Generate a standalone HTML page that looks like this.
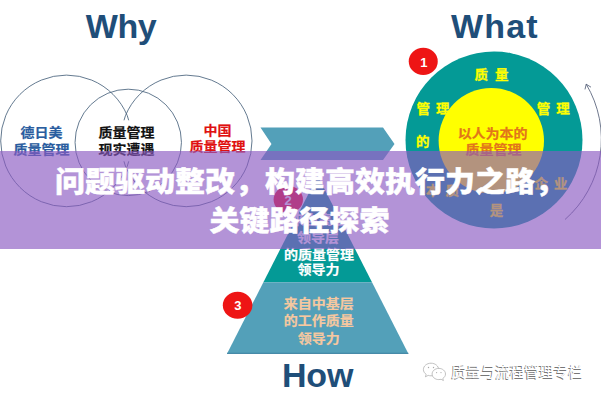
<!DOCTYPE html>
<html lang="zh-CN">
<head>
<meta charset="utf-8">
<title>问题驱动整改，构建高效执行力之路，关键路径探索</title>
<style>
html,body{margin:0;padding:0;background:#fff;}
body{width:601px;height:400px;overflow:hidden;position:relative;font-family:"Liberation Sans","Noto Sans CJK SC",sans-serif;}
svg{position:absolute;left:0;top:0;display:block;}
text{font-family:"Liberation Sans","Noto Sans CJK SC",sans-serif;}
.h{font-size:34px;font-weight:700;fill:#1f4e79;}
.c{font-size:14px;font-weight:700;text-anchor:middle;fill:currentColor;stroke:currentColor;stroke-width:.22px;}
.y{font-size:13.5px;font-weight:700;fill:#ffff00;stroke:#ffff00;stroke-width:.3px;text-anchor:middle;}
.n{font-size:13px;font-weight:700;fill:#fff;text-anchor:middle;}
#banner{position:absolute;left:0;top:150.5px;width:601px;height:98.3px;background:rgba(138,89,193,0.65);}
.t{position:absolute;color:#fff;font-weight:900;font-size:30px;line-height:38px;height:38px;white-space:nowrap;-webkit-text-stroke:0.45px #fff;transform:scaleY(0.94);transform-origin:0 50%;}
#wm{position:absolute;left:451.3px;top:362px;font-size:14.6px;line-height:21px;color:#fff;white-space:nowrap;text-shadow:-0.9px 0.6px 0 #787878;}
#t1{left:55px;top:163.8px;}
#t2{left:209.5px;top:202.8px;}
</style>
</head>
<body>
<svg width="601" height="400" viewBox="0 0 601 400">
  <!-- WHY -->
  <text class="h" x="85.8" y="37.6" letter-spacing="-0.4">Why</text>
  <g fill="none" stroke="#48627c" stroke-width="0.85">
    <circle cx="66.5" cy="140.9" r="65.8"/>
    <circle cx="128.25" cy="142.4" r="53.2"/>
    <circle cx="186.2" cy="140.9" r="65.8"/>
  </g>
  <rect x="98" y="120.3" width="58" height="41" fill="#fff"/>
  <text class="c" style="color:#2a5d9f" transform="translate(41.5,137.0) scale(1,0.92)">德日美</text>
  <text class="c" style="color:#2a5d9f" transform="translate(41.5,154.0) scale(1,0.92)">质量管理</text>
  <text class="c" style="color:#111" transform="translate(126.5,137.0) scale(1,0.92)">质量管理</text>
  <text class="c" style="color:#111" transform="translate(126.5,154.0) scale(1,0.92)">现实遭遇</text>
  <text class="c" style="color:#e01010" transform="translate(217.5,135.0) scale(1,0.92)">中国</text>
  <text class="c" style="color:#e01010" transform="translate(217.5,151.0) scale(1,0.92)">质量管理</text>
  <!-- chevron -->
  <polygon points="260.5,127.5 383,127.5 394.5,144 383,160 260.5,160 271.5,144" fill="#53a0b9"/>
  <!-- WHAT -->
  <text class="h" x="451" y="37.6" letter-spacing="1.2">What</text>
  <circle cx="494" cy="140" r="88.5" fill="#049a96"/>
  <circle cx="491.3" cy="140.8" r="52.7" fill="#ffff00"/>
  <ellipse cx="423.25" cy="61.4" rx="14.5" ry="13.6" fill="#ee1515"/>
  <text class="n" x="423.8" y="66.8">1</text>
  <text class="y" transform="translate(495,79.2) scale(1,0.94)" letter-spacing="7">质量</text>
  <text class="y" transform="translate(436,112.6) scale(1,0.94)" letter-spacing="6">管理</text>
  <text class="y" transform="translate(556.3,112.6) scale(1,0.94)" letter-spacing="6">管理</text>
  <text class="y" transform="translate(422.8,145.8) scale(1,0.94)">的</text>
  <text class="y" transform="translate(445.5,194.5) scale(1,0.94)" letter-spacing="6">本质</text>
  <text class="y" transform="translate(554,188.2) scale(1,0.94)" letter-spacing="6">企业</text>
  <text class="y" transform="translate(496.5,215) scale(1,0.94)">是</text>
  <text class="c" style="color:#e2751a" transform="translate(492.6,137.5) scale(1,0.92)">以人为本的</text>
  <text class="c" style="color:#e2751a" transform="translate(493.5,153.5) scale(1,0.92)">质量管理</text>
  <path d="M586.2,84.2 A107,107 0 0 1 565,219.5" fill="none" stroke="#4a5670" stroke-width="0.8"/>
  <path d="M585,89.4 L586.2,84.2 L591,87.2" fill="none" stroke="#4a5670" stroke-width="0.8"/>
  <!-- HOW -->
  <polygon points="317.7,175.8 372,282.2 263.4,282.2" fill="#049a96"/>
  <polygon points="263.4,282.2 372,282.2 408.4,353.7 227,353.7" fill="#53a0b9"/>
  <line x1="227" y1="353.3" x2="408.4" y2="353.3" stroke="#3a7f9f" stroke-width="1"/>
  <ellipse cx="288.3" cy="199.5" rx="14.7" ry="13.6" fill="#f50a20"/>
  <text class="n" x="288" y="204.6">2</text>
  <ellipse cx="237.6" cy="305.3" rx="14.8" ry="13.5" fill="#ee1515"/>
  <text class="n" x="237.8" y="310.4">3</text>
  <text class="c" style="color:#fff" transform="translate(318.5,224.1) scale(1,0.92)">来自高层</text>
  <text class="c" style="color:#fff" transform="translate(318,241.7) scale(1,0.92)">领导层</text>
  <text class="c" style="color:#fff" transform="translate(319,259.1) scale(1,0.92)">的质量管理</text>
  <text class="c" style="color:#fff" transform="translate(318.5,274.3) scale(1,0.92)">领导力</text>
  <text class="c" style="color:#f6c8a0" transform="translate(318.8,307.8) scale(1,0.92)">来自中基层</text>
  <text class="c" style="color:#f6c8a0" transform="translate(318.8,325.3) scale(1,0.92)">的工作质量</text>
  <text class="c" style="color:#f6c8a0" transform="translate(318.8,342.5) scale(1,0.92)">领导力</text>
  <text class="h" x="282" y="387.3" letter-spacing="-0.2">How</text>
  <!-- watermark -->
  <g fill="#fff" stroke="#a8a8a8" stroke-width="0.7">
    <path d="M431,363.2c-4.2,0-7.6,2.8-7.6,6.3c0,2,1.1,3.7,2.8,4.9l-0.8,2.4l2.8-1.4c0.9,0.3,1.8,0.4,2.8,0.4c4.2,0,7.6-2.8,7.6-6.3s-3.4-6.3-7.6-6.3z"/>
    <path d="M438.8,368.4c-3.7,0-6.7,2.5-6.7,5.6s3,5.6,6.7,5.6c0.8,0,1.600-0.100,2.300-0.300l2.300,1.200l-0.600-2c1.600-1,2.700-2.600,2.700-4.500c0-3.100-3-5.600-6.700-5.600z"/>
  </g>
  <g fill="#aaa"><circle cx="428.500" cy="367.500" r="0.700"/><circle cx="433.500" cy="367.500" r="0.700"/><circle cx="436.600" cy="372.600" r="0.600"/><circle cx="441" cy="372.600" r="0.600"/></g>
</svg>
<div id="wm">质量与流程管理专栏</div>
<div id="banner"></div>
<div class="t" id="t1">问题驱动整改，构建高效执行力之路，</div>
<div class="t" id="t2">关键路径探索</div>
</body>
</html>
